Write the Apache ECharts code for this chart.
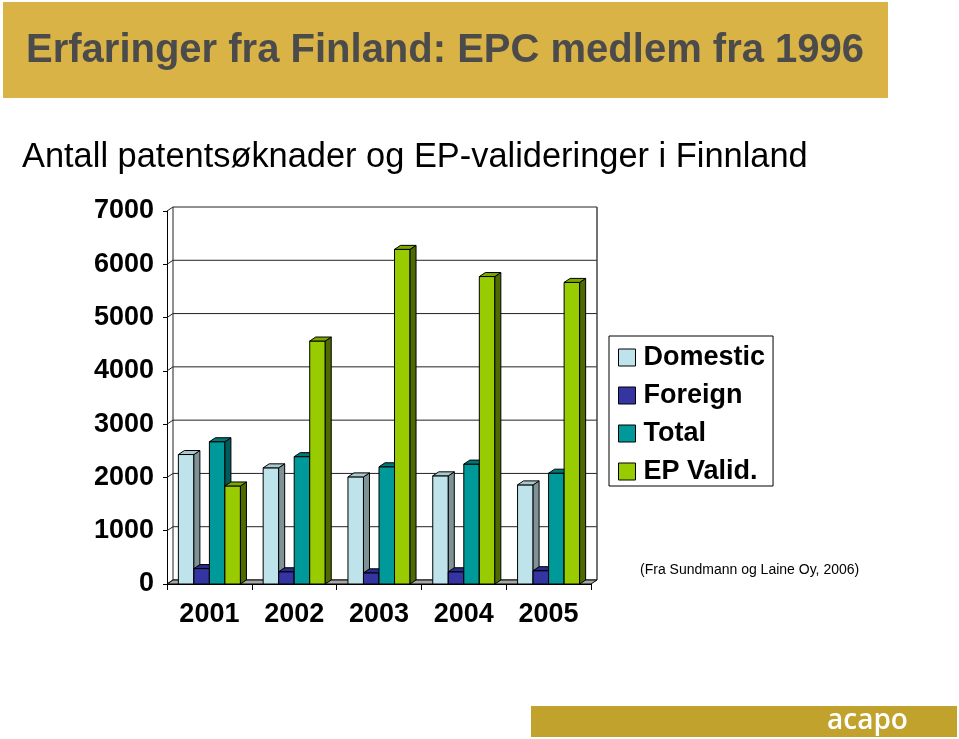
<!DOCTYPE html>
<html>
<head>
<meta charset="utf-8">
<script src="https://cdn.jsdelivr.net/npm/echarts@6/dist/echarts.min.js"></script>
<style>
html,body{margin:0;padding:0;background:#fff;}
#chart{width:959px;height:739px;}
</style>
</head>
<body>
<div id="chart"></div>
<script>
var categories = ['2001', '2002', '2003', '2004', '2005'];
var domestic = [2430, 2180, 2010, 2030, 1860];
var foreign = [290, 230, 210, 230, 250];
var total = [2670, 2390, 2200, 2250, 2080];
var epValid = [1840, 4560, 6280, 5770, 5660];
var seriesNames = ['Domestic', 'Foreign', 'Total', 'EP Valid.'];
var yTicks = [0, 1000, 2000, 3000, 4000, 5000, 6000, 7000];

var FONT = '"Liberation Sans", Arial, sans-serif';
var DX = 6, DY = -4;
var BAR_FRAC = 0.183;

var palette = [
  {face: '#BFE3EA', side: '#7F9397', top: '#A9C9CF'},
  {face: '#3434A2', side: '#20206E', top: '#2A2A88'},
  {face: '#009999', side: '#005C5C', top: '#007777'},
  {face: '#99CC00', side: '#4E6A00', top: '#7DA600'}
];

function toPairs(arr) {
  return arr.map(function (v, i) { return [i, v]; });
}

function barRender(si) {
  var c = palette[si];
  return function (params, api) {
    var ci = api.value(0), v = api.value(1);
    var pTop = api.coord([ci, v]);
    var pBase = api.coord([ci, 0]);
    var band = api.size([1, 0])[0];
    var bw = band * BAR_FRAC;
    var x0 = pTop[0] + (si - 1.5) * bw - bw / 2;
    var x1 = x0 + bw;
    var yt = pTop[1], yb = pBase[1];
    var st = {stroke: '#000', lineWidth: 1, lineJoin: 'round'};
    return {
      type: 'group',
      children: [
        {type: 'polygon', shape: {points: [[x0, yb], [x0, yt], [x1, yt], [x1, yb]]},
          style: Object.assign({fill: c.face}, st)},
        {type: 'polygon', shape: {points: [[x1, yt], [x1 + DX, yt + DY], [x1 + DX, yb + DY], [x1, yb]]},
          style: Object.assign({fill: c.side}, st)},
        {type: 'polygon', shape: {points: [[x0, yt], [x0 + DX, yt + DY], [x1 + DX, yt + DY], [x1, yt]]},
          style: Object.assign({fill: c.top}, st)}
      ]
    };
  };
}

function frameRender(params, api) {
  var cs = params.coordSys;
  var xl = cs.x, xr = cs.x + cs.width;
  var yZero = api.coord([0, yTicks[0]])[1];
  var yMax = api.coord([0, yTicks[yTicks.length - 1]])[1];
  var line = {stroke: '#222', lineWidth: 1};
  var children = [];
  yTicks.forEach(function (t) {
    var y = api.coord([0, t])[1];
    children.push({type: 'line', shape: {x1: xl + DX, y1: y + DY, x2: xr + DX, y2: y + DY}, style: line});
    children.push({type: 'line', shape: {x1: xl, y1: y, x2: xl + DX, y2: y + DY}, style: line});
  });
  children.push({type: 'line', shape: {x1: xl + DX, y1: yMax + DY, x2: xl + DX, y2: yZero + DY}, style: line});
  children.push({type: 'line', shape: {x1: xr + DX, y1: yMax + DY, x2: xr + DX, y2: yZero + DY}, style: {stroke: '#444', lineWidth: 1.5}});
  children.push({type: 'polygon', shape: {points: [[xl, yZero], [xr, yZero], [xr + DX, yZero + DY], [xl + DX, yZero + DY]]},
    style: {fill: '#A8A8A8', stroke: '#000', lineWidth: 1}});
  return {type: 'group', children: children};
}

var chart = echarts.init(document.getElementById('chart'), null, {renderer: 'canvas'});

var series = [{
  type: 'custom',
  name: '__frame',
  silent: true,
  z: 1,
  renderItem: frameRender,
  data: [[0, 0]],
  animation: false
}];
[domestic, foreign, total, epValid].forEach(function (arr, si) {
  series.push({
    type: 'custom',
    name: seriesNames[si],
    z: 2,
    silent: true,
    itemStyle: {color: palette[si].face},
    renderItem: barRender(si),
    encode: {x: 0, y: 1},
    data: toPairs(arr),
    animation: false
  });
});

var option = {
  backgroundColor: '#ffffff',
  animation: false,
  grid: {left: 167, right: 368, top: 211, bottom: 155, containLabel: false},
  xAxis: {
    type: 'category',
    data: categories,
    boundaryGap: true,
    axisLine: {show: true, lineStyle: {color: '#000', width: 1}},
    axisTick: {show: true, length: 6, lineStyle: {color: '#000'}},
    axisLabel: {margin: 17, fontFamily: FONT, fontWeight: 'bold', fontSize: 27, color: '#000'},
    splitLine: {show: false}
  },
  yAxis: {
    type: 'value',
    min: 0,
    max: 7000,
    interval: 1000,
    axisLine: {show: true, lineStyle: {color: '#000', width: 1}},
    axisTick: {show: true, length: 4, lineStyle: {color: '#000'}},
    axisLabel: {margin: 13, fontFamily: FONT, fontWeight: 'bold', fontSize: 27, color: '#000',
      formatter: function (v) { return String(v); }},
    splitLine: {show: false}
  },
  legend: {
    data: seriesNames,
    orient: 'vertical',
    left: 609,
    top: 336,
    padding: [8, 8, 1, 9],
    itemGap: 11,
    itemWidth: 17,
    itemHeight: 17,
    icon: 'rect',
    selectedMode: false,
    borderColor: '#000',
    borderWidth: 1,
    backgroundColor: '#fff',
    itemStyle: {borderColor: '#000', borderWidth: 1},
    textStyle: {fontFamily: FONT, fontWeight: 'bold', fontSize: 27, lineHeight: 26, color: '#000',
      padding: [0, 0, 0, 3]}
  },
  graphic: [
    {type: 'rect', left: 3, top: 2, shape: {width: 885, height: 96}, style: {fill: '#DAB346'}, silent: true},
    {type: 'text', x: 26, y: 51, style: {text: 'Erfaringer fra Finland: EPC medlem fra 1996', fill: '#4B4B4B',
      font: 'bold 40px ' + FONT, verticalAlign: 'middle'}, silent: true},
    {type: 'text', x: 22, y: 158, style: {text: 'Antall patentsøknader og EP-valideringer i Finnland', fill: '#000',
      font: '34.4px ' + FONT, verticalAlign: 'middle'}, silent: true},
    {type: 'text', x: 640, y: 570, style: {text: '(Fra Sundmann og Laine Oy, 2006)', fill: '#000',
      font: '14px ' + FONT, verticalAlign: 'middle'}, silent: true},
    {type: 'rect', left: 531, top: 706, shape: {width: 426, height: 31}, style: {fill: '#C0A22C'}, silent: true},
    {type: 'text', x: 827, y: 721, style: {text: 'acapo', fill: '#fff',
      font: '600 28px "Open Sans", ' + FONT, verticalAlign: 'middle'}, silent: true}
  ],
  series: series
};
chart.setOption(option);
</script>
</body>
</html>
